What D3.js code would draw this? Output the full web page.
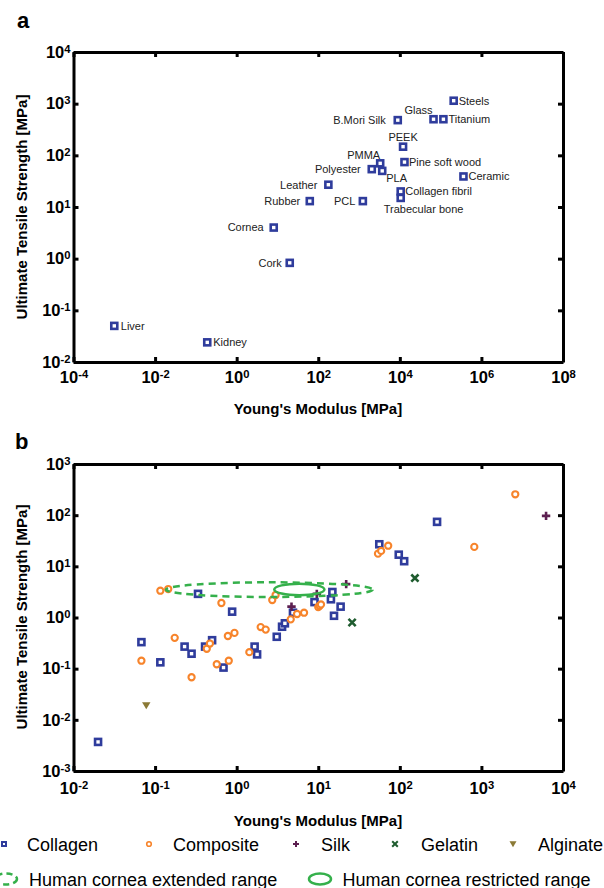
<!DOCTYPE html>
<html>
<head>
<meta charset="utf-8">
<script src="https://cdn.jsdelivr.net/npm/d3@7"></script>
<style>
  body { margin: 0; background: #fff; }
  text { font-family: "Liberation Sans", Arial, sans-serif; }
</style>
</head>
<body>
<svg id="chart" width="604" height="888"></svg>
<script>
// ---- panel a : common materials ----
const materialNames = ['Steels', 'Titanium', 'Glass', 'B.Mori Silk', 'PEEK', 'PMMA', 'Pine soft wood',
    'Polyester', 'PLA', 'Ceramic', 'Leather', 'Collagen fibril', 'Trabecular bone', 'Rubber', 'PCL',
    'Cornea', 'Cork', 'Liver', 'Kidney'];
const materialModulus = [209000, 117000, 67000, 8900, 12000, 3300, 13000, 2050, 3700, 363000, 177,
    10500, 10500, 62, 1240, 8.1, 20, 0.001, 0.19];
const materialStrength = [1140, 500, 500, 480, 147, 70, 74, 54, 50, 39, 27, 20, 15, 13, 13, 4.0, 0.83,
    0.05, 0.024];
const panelAXTicks = [1e-4, 1e-2, 1e0, 1e2, 1e4, 1e6, 1e8];
const panelAYTicks = [1e-2, 1e-1, 1e0, 1e1, 1e2, 1e3, 1e4];

// ---- panel b : cornea substitutes ----
const collagenE = [0.02, 0.068, 0.116, 0.23, 0.28, 0.336, 0.41, 0.5, 0.69, 0.88, 1.66, 1.78, 3.1, 3.6,
    3.9, 4.9, 9, 14.3, 14.9, 15.6, 18.8, 56, 97, 113, 286];
const collagenUTS = [0.0037, 0.33, 0.133, 0.27, 0.196, 2.9, 0.27, 0.36, 0.105, 1.3, 0.27, 0.19, 0.42,
    0.66, 0.77, 1.24, 2.0, 2.27, 3.15, 1.08, 1.63, 27, 16.9, 12.6, 74];
const compositeE = [0.068, 0.116, 0.145, 0.174, 0.28, 0.43, 0.47, 0.57, 0.65, 0.78, 0.8, 0.94, 1.43,
    1.97, 2.27, 2.73, 3.0, 4.6, 5.5, 6.7, 10, 10.4, 10.8, 54, 59, 72, 818, 2600];
const compositeUTS = [0.143, 3.34, 3.6, 0.40, 0.068, 0.245, 0.31, 0.122, 1.92, 0.435, 0.143, 0.50, 0.21,
    0.65, 0.58, 2.2, 2.75, 0.92, 1.17, 1.24, 1.6, 1.7, 1.8, 17.7, 20, 25.3, 24, 256];
const silkE = [4.7, 9.6, 22, 6200];
const silkUTS = [1.63, 2.9, 4.5, 97];
const gelatinE = [26, 153];
const gelatinUTS = [0.8, 5.9];
const alginateE = [0.078];
const alginateUTS = [0.019];
const extendedRangeE = [0.136, 46.5];
const extendedRangeUTS = [2.52, 4.87];
const restrictedRangeE = [2.89, 11.9];
const restrictedRangeUTS = [2.72, 4.58];
const panelBXTicks = [1e-2, 1e-1, 1e0, 1e1, 1e2, 1e3, 1e4];
const panelBYTicks = [1e-3, 1e-2, 1e-1, 1e0, 1e1, 1e2, 1e3];

const BLUE = '#2f3c9c', ORANGE = '#f7842b', PURPLE = '#5c1f50', DKGREEN = '#1f5c2f',
    OLIVE = '#8b7a36', GREEN = '#35b04b';

const svg = d3.select('#chart');
svg.append('rect').attr('width', 604).attr('height', 888).attr('fill', '#fff');

// label placement for panel a: [anchor, dx, dy]
const labelPlacement = {
    'Steels': ['start', 5, 0], 'Titanium': ['start', 5, 0], 'Glass': ['end', -1, -9],
    'B.Mori Silk': ['end', -12, 0], 'PEEK': ['middle', 0, -10], 'PMMA': ['end', 0, -8],
    'Pine soft wood': ['start', 4.5, 0], 'Polyester': ['end', -11, 0], 'PLA': ['start', 4, 7],
    'Ceramic': ['start', 5, 0], 'Leather': ['end', -11, 0], 'Collagen fibril': ['start', 4.5, 0],
    'Trabecular bone': ['start', -17, 11], 'Rubber': ['end', -9.5, 0], 'PCL': ['end', -7.5, 0],
    'Cornea': ['end', -10, 0], 'Cork': ['end', -8, 0], 'Liver': ['start', 6.5, 0], 'Kidney': ['start', 6, 0]
};

const superLabel = (sel) => {
    sel.each(function (d) {
        const t = d3.select(this);
        const e = Math.round(Math.log10(d));
        t.text(null);
        t.append('tspan').text('10');
        t.append('tspan').attr('dy', '-0.45em').attr('font-size', '0.68em').text(e);
    });
};

const drawFrame = (g, x, y, xTicks, yTicks, xPad) => {
    const styleAxis = (a) => {
        a.select('.domain').attr('stroke', '#000').attr('stroke-width', 3);
        a.selectAll('.tick line').attr('stroke', '#000').attr('stroke-width', 3);
        a.selectAll('.tick text').attr('font-size', 16.5).attr('font-weight', 'bold').attr('fill', '#000');
    };
    const [x0, x1] = x.range();
    const [y0, y1] = y.range();
    g.append('g').attr('transform', `translate(0,${y1})`)
        .call(d3.axisTop(x).tickValues(xTicks).tickSize(-5).tickSizeOuter(0).tickFormat(''))
        .call(styleAxis);
    g.append('g').attr('transform', `translate(${x1},0)`)
        .call(d3.axisRight(y).tickValues(yTicks).tickSize(-5).tickSizeOuter(0).tickFormat(''))
        .call(styleAxis);
    g.append('g').attr('transform', `translate(0,${y0})`)
        .call(d3.axisBottom(x).tickValues(xTicks).tickSize(-5).tickSizeOuter(0).tickPadding(xPad))
        .call(styleAxis)
        .selectAll('.tick text').call(superLabel);
    g.append('g').attr('transform', `translate(${x0},0)`)
        .call(d3.axisLeft(y).tickValues(yTicks).tickSize(-5).tickSizeOuter(0).tickPadding(3))
        .call(styleAxis)
        .selectAll('.tick text').call(superLabel);
};

const square = (g, pts, size, sw) => {
    g.selectAll(null).data(pts).enter().append('rect')
        .attr('x', d => d[0] - size / 2).attr('y', d => d[1] - size / 2)
        .attr('width', size).attr('height', size)
        .attr('fill', '#fff').attr('stroke', BLUE).attr('stroke-width', sw);
};
const circle = (g, pts, r, sw) => {
    g.selectAll(null).data(pts).enter().append('circle')
        .attr('cx', d => d[0]).attr('cy', d => d[1]).attr('r', r)
        .attr('fill', '#fff').attr('stroke', ORANGE).attr('stroke-width', sw);
};
const plus = (g, pts, s, sw) => {
    g.selectAll(null).data(pts).enter().append('path')
        .attr('d', d => `M${d[0] - s},${d[1]}h${2 * s}M${d[0]},${d[1] - s}v${2 * s}`)
        .attr('stroke', PURPLE).attr('stroke-width', sw);
};
const cross = (g, pts, s, sw) => {
    g.selectAll(null).data(pts).enter().append('path')
        .attr('d', d => `M${d[0] - s},${d[1] - s}l${2 * s},${2 * s}M${d[0] - s},${d[1] + s}l${2 * s},${-2 * s}`)
        .attr('stroke', DKGREEN).attr('stroke-width', sw);
};
const tri = (g, pts, s) => {
    g.selectAll(null).data(pts).enter().append('path')
        .attr('d', d => `M${d[0] - s},${d[1] - s * 0.8}h${2 * s}L${d[0]},${d[1] + s * 0.9}Z`)
        .attr('fill', OLIVE);
};

// ---------------- panel a ----------------
const xa = d3.scaleLog().domain([1e-4, 1e8]).range([73.5, 563]);
const ya = d3.scaleLog().domain([1e-2, 1e4]).range([362, 52]);
const ga = svg.append('g');

const matPts = materialNames.map((n, i) => [xa(materialModulus[i]), ya(materialStrength[i]), n]);
square(ga, matPts, 6, 2.6);
ga.selectAll(null).data(matPts).enter().append('text')
    .attr('x', d => d[0] + labelPlacement[d[2]][1])
    .attr('y', d => d[1] + labelPlacement[d[2]][2])
    .attr('dy', '0.35em')
    .attr('text-anchor', d => labelPlacement[d[2]][0])
    .attr('font-size', 11).attr('fill', '#222')
    .text(d => d[2]);
drawFrame(ga, xa, ya, panelAXTicks, panelAYTicks, 9);

svg.append('text').attr('x', 17).attr('y', 28).attr('font-size', 22).attr('font-weight', 'bold').text('a');
svg.append('text').attr('x', 318).attr('y', 414).attr('text-anchor', 'middle')
    .attr('font-size', 15).attr('font-weight', 'bold').text("Young's Modulus [MPa]");
svg.append('text').attr('transform', 'translate(27,207) rotate(-90)').attr('text-anchor', 'middle')
    .attr('font-size', 15).attr('font-weight', 'bold').text('Ultimate Tensile Strength [MPa]');

// ---------------- panel b ----------------
const xb = d3.scaleLog().domain([1e-2, 1e4]).range([73.5, 563]);
const yb = d3.scaleLog().domain([1e-3, 1e3]).range([771, 464]);
const gb = svg.append('g');
const pts = (E, S) => E.map((e, i) => [xb(e), yb(S[i])]);

square(gb, pts(collagenE, collagenUTS), 6, 2.6);
circle(gb, pts(compositeE, compositeUTS), 3.1, 2.1);
plus(gb, pts(silkE, silkUTS), 4.2, 2.6);
cross(gb, pts(gelatinE, gelatinUTS), 3.6, 2.6);
tri(gb, pts(alginateE, alginateUTS), 4.2);

const ellipse = (E, S, dash) => {
    gb.append('ellipse')
        .attr('cx', xb(Math.sqrt(E[0] * E[1]))).attr('cy', yb(Math.sqrt(S[0] * S[1])))
        .attr('rx', (xb(E[1]) - xb(E[0])) / 2).attr('ry', (yb(S[0]) - yb(S[1])) / 2)
        .attr('fill', 'none').attr('stroke', GREEN).attr('stroke-width', 2.5)
        .attr('stroke-dasharray', dash);
};
ellipse(extendedRangeE, extendedRangeUTS, '7,5');
ellipse(restrictedRangeE, restrictedRangeUTS, null);

drawFrame(gb, xb, yb, panelBXTicks, panelBYTicks, 11);

svg.append('text').attr('x', 15).attr('y', 449).attr('font-size', 22).attr('font-weight', 'bold').text('b');
svg.append('text').attr('x', 318).attr('y', 826).attr('text-anchor', 'middle')
    .attr('font-size', 15).attr('font-weight', 'bold').text("Young's Modulus [MPa]");
svg.append('text').attr('transform', 'translate(27,617) rotate(-90)').attr('text-anchor', 'middle')
    .attr('font-size', 15).attr('font-weight', 'bold').text('Ultimate Tensile Strength [MPa]');

// ---------------- legend ----------------
const leg = svg.append('g');
const row1 = 844, row2 = 879;
square(leg, [[4, row1]], 4, 2);
circle(leg, [[149, row1]], 2.3, 1.6);
plus(leg, [[296, row1]], 3, 2);
cross(leg, [[395, row1]], 2.8, 2);
tri(leg, [[513, row1]], 3.5);
[['Collagen', 27], ['Composite', 173], ['Silk', 321], ['Gelatin', 421], ['Alginate', 538]]
    .forEach(([t, x]) => leg.append('text').attr('x', x).attr('y', row1 + 6.5).attr('font-size', 18).text(t));
leg.append('ellipse').attr('cx', 6).attr('cy', row2).attr('rx', 11).attr('ry', 5.5)
    .attr('fill', 'none').attr('stroke', GREEN).attr('stroke-width', 2.5).attr('stroke-dasharray', '6,4');
leg.append('ellipse').attr('cx', 320).attr('cy', row2).attr('rx', 11).attr('ry', 5.5)
    .attr('fill', 'none').attr('stroke', GREEN).attr('stroke-width', 2.5);
leg.append('text').attr('x', 29).attr('y', row2 + 6.5).attr('font-size', 18).text('Human cornea extended range');
leg.append('text').attr('x', 342.5).attr('y', row2 + 6.5).attr('font-size', 18).text('Human cornea restricted range');
</script>
</body>
</html>
